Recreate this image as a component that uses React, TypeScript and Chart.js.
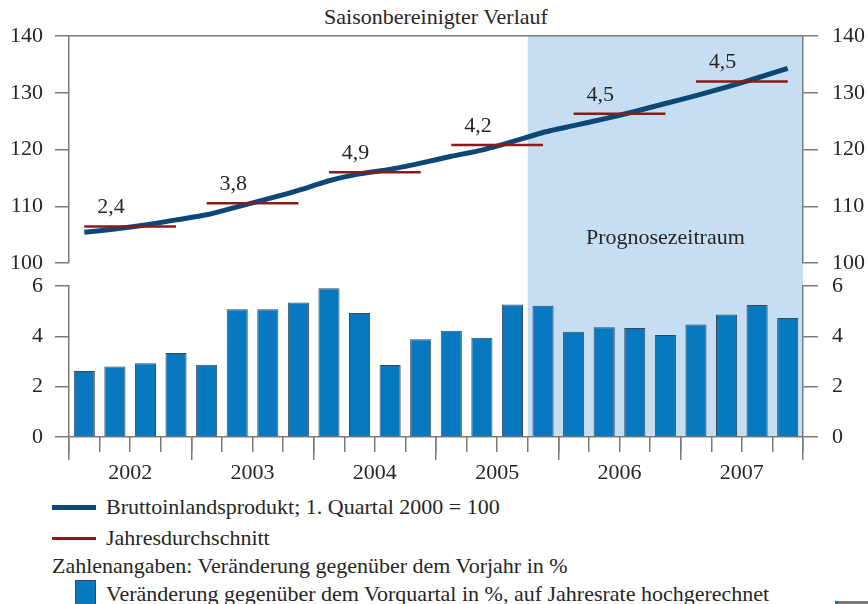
import React, { useEffect, useRef } from 'react';
import { Chart, registerables } from 'chart.js';

Chart.register(...registerables);

// ---------- data ----------
const years = ['2002', '2003', '2004', '2005', '2006', '2007'];
const quarterLabels = years.flatMap((y) => ['Q1', 'Q2', 'Q3', 'Q4'].map((q) => `${q} ${y}`));

// GDP index, 1st quarter 2000 = 100 (seasonally adjusted)
const gdpIndex = [
  105.4, 106.0, 106.7, 107.6,
  108.5, 109.9, 111.3, 112.8,
  114.5, 115.7, 116.5, 117.6,
  118.8, 119.9, 121.4, 123.0,
  124.2, 125.4, 126.7, 128.1,
  129.5, 131.0, 132.6, 134.3,
];

// Change vs previous quarter in %, annualised
const quarterlyGrowth = [
  2.62, 2.80, 2.93, 3.34,
  2.87, 5.08, 5.08, 5.34,
  5.91, 4.93, 2.86, 3.88,
  4.22, 3.94, 5.26, 5.22,
  4.18, 4.36, 4.33, 4.05,
  4.47, 4.87, 5.25, 4.73,
];

// Annual average of the index
const annualAverage = [106.45, 110.55, 116.0, 120.8, 126.3, 132.0];
// Change vs previous year in %
const annualGrowthLabels = ['2,4', '3,8', '4,9', '4,2', '4,5', '4,5'];

const forecastStartIndex = 15; // first forecast quarter (Q4 2005)

const topAxis = { min: 100, max: 140, step: 10 };
const bottomAxis = { min: 0, max: 6, step: 2 };

// ---------- style ----------
const FONT = '"Liberation Serif", "Times New Roman", serif';
const TEXT = '#262626';
const AXIS = '#7a7a7a';
const NAVY = '#0b4876';
const RED = '#8b1a1a';
const BAR = '#0879c1';
const SHADE = '#c6def2';

const overlayPlugin = {
  id: 'overlay',
  beforeDraw(chart: any) {
    const { ctx, chartArea, scales } = chart;
    const x = scales.x;
    const left = (x.getPixelForValue(forecastStartIndex - 1) + x.getPixelForValue(forecastStartIndex)) / 2;
    ctx.save();
    ctx.fillStyle = SHADE;
    ctx.fillRect(left, chartArea.top, chartArea.right - left, chartArea.bottom - chartArea.top);
    ctx.font = `22px ${FONT}`;
    ctx.fillStyle = TEXT;
    ctx.textAlign = 'center';
    ctx.textBaseline = 'middle';
    ctx.fillText('Prognosezeitraum', (left + chartArea.right) / 2, scales.yTop.getPixelForValue(104.4));
    ctx.restore();
  },
  afterDatasetsDraw(chart: any) {
    const { ctx, scales } = chart;
    ctx.save();
    ctx.font = `22px ${FONT}`;
    ctx.fillStyle = TEXT;
    ctx.textAlign = 'center';
    ctx.textBaseline = 'alphabetic';
    annualGrowthLabels.forEach((lab, i) => {
      const px = scales.x.getPixelForValue(i * 4 + 0.87);
      const py = scales.yTop.getPixelForValue(annualAverage[i]) - 13;
      ctx.fillText(lab, px, py);
    });
    ctx.restore();
  },
};

function leftAxis(range: any, stackWeight: number, weight: number, gridValue: number | null) {
  return {
    type: 'linear',
    position: 'left',
    stack: 'left',
    stackWeight,
    weight,
    min: range.min,
    max: range.max,
    afterFit: (s: any) => { s.width = 69; },
    ticks: { stepSize: range.step, autoSkip: false, font: { family: FONT, size: 22 }, color: TEXT, padding: 12 },
    grid: {
      drawOnChartArea: true,
      color: (c: any) => (c.tick && c.tick.value === gridValue ? AXIS : 'rgba(0,0,0,0)'),
      tickColor: AXIS,
      tickLength: 14,
      lineWidth: 1.5,
    },
    border: { display: true, color: AXIS, width: 1.5 },
  };
}

function rightAxis(range: any, stackWeight: number, weight: number) {
  return {
    type: 'linear',
    position: 'right',
    stack: 'right',
    stackWeight,
    weight,
    min: range.min,
    max: range.max,
    afterFit: (s: any) => { s.width = 65; },
    ticks: { stepSize: range.step, autoSkip: false, font: { family: FONT, size: 22 }, color: TEXT, padding: 14 },
    grid: { drawOnChartArea: false, tickColor: AXIS, tickLength: 15, lineWidth: 1.5 },
    border: { display: true, color: AXIS, width: 1.5 },
  };
}

function gapAxis(position: string, stack: string, weight: number, width: number) {
  return {
    type: 'linear',
    position,
    stack,
    stackWeight: 23,
    weight,
    min: 0,
    max: 1,
    afterFit: (s: any) => { s.width = width; },
    ticks: { display: false },
    grid: { display: false },
    border: { display: false },
  };
}

function ChartView() {
  const ref = useRef<HTMLCanvasElement | null>(null);
  useEffect(() => {
    if (!ref.current) return;
    const avgDatasets = annualAverage.map((v, yi) => ({
      type: 'line' as const,
      label: `Jahresdurchschnitt ${years[yi]}`,
      data: quarterLabels.map((_, i) => (Math.floor(i / 4) === yi ? v : null)),
      xAxisID: 'x',
      yAxisID: 'yTop',
      borderColor: RED,
      borderWidth: 2.5,
      pointRadius: 0,
      spanGaps: false,
      order: 0,
    }));
    const chart = new Chart(ref.current, {
      type: 'bar',
      data: {
        labels: quarterLabels,
        datasets: [
          ...avgDatasets,
          {
            type: 'line',
            label: 'Bruttoinlandsprodukt',
            data: gdpIndex,
            xAxisID: 'x',
            yAxisID: 'yTop',
            borderColor: NAVY,
            borderWidth: 5,
            pointRadius: 0,
            tension: 0.2,
            borderCapStyle: 'butt',
            order: 1,
          },
          {
            type: 'bar',
            label: 'Veränderung gegenüber dem Vorquartal',
            data: quarterlyGrowth,
            xAxisID: 'x',
            yAxisID: 'yBot',
            backgroundColor: BAR,
            borderColor: '#3a4856',
            borderWidth: 1,
            barPercentage: 0.69,
            categoryPercentage: 1,
            order: 2,
          },
        ] as any,
      },
      options: {
        animation: false,
        responsive: true,
        maintainAspectRatio: false,
        events: [],
        layout: { padding: { top: 36, left: 0, right: 0, bottom: 0 } },
        plugins: { legend: { display: false }, tooltip: { enabled: false }, title: { display: false } },
        scales: {
          x: {
            type: 'category',
            position: 'bottom',
            weight: 0,
            offset: true,
            afterFit: (s: any) => { s.height = 0; },
            ticks: { display: false },
            grid: { offset: true, drawOnChartArea: false, tickLength: 15, color: AXIS, tickColor: AXIS, lineWidth: 1.5 },
            border: { display: false },
          },
          xYear: {
            type: 'category',
            position: 'bottom',
            weight: 1,
            labels: years,
            offset: true,
            afterFit: (s: any) => { s.height = 53; },
            ticks: { font: { family: FONT, size: 22 }, color: TEXT, padding: 0, maxRotation: 0, autoSkip: false },
            grid: { offset: true, drawOnChartArea: false, tickLength: 23, color: AXIS, tickColor: AXIS, lineWidth: 1.5 },
            border: { display: false },
          },
          yTop: leftAxis(topAxis, 227, 3, 140),
          yGap: gapAxis('left', 'left', 2, 69),
          yBot: leftAxis(bottomAxis, 151, 1, 0),
          yTopR: rightAxis(topAxis, 227, 1),
          yGapR: gapAxis('right', 'right', 2, 65),
          yBotR: rightAxis(bottomAxis, 151, 3),
        } as any,
      },
      plugins: [overlayPlugin],
    });
    return () => chart.destroy();
  }, []);
  return <canvas ref={ref} />;
}

const txt = (left: number, top: number): React.CSSProperties => ({
  position: 'absolute',
  left,
  top,
  font: `22px ${FONT}`,
  lineHeight: '26px',
  color: TEXT,
  whiteSpace: 'nowrap',
});

export default function App() {
  return (
    <div style={{ position: 'fixed', left: 0, top: 0, width: 868, height: 604, background: '#fff', overflow: 'hidden' }}>
      <div style={{ ...txt(0, 4), width: 872, textAlign: 'center' }}>Saisonbereinigter Verlauf</div>
      <div style={{ position: 'absolute', left: 0, top: 0, width: 868, height: 490 }}>
        <ChartView />
      </div>
      <div style={{ position: 'absolute', left: 52, top: 505, width: 44, height: 5, background: NAVY }} />
      <div style={txt(106, 494)}>Bruttoinlandsprodukt; 1. Quartal 2000 = 100</div>
      <div style={{ position: 'absolute', left: 52, top: 537, width: 44, height: 2.5, background: RED }} />
      <div style={txt(106, 525)}>Jahresdurchschnitt</div>
      <div style={txt(52, 553)}>Zahlenangaben: Veränderung gegenüber dem Vorjahr in %</div>
      <div style={{ position: 'absolute', left: 75, top: 580, width: 21, height: 26, background: BAR, boxSizing: 'border-box', border: '1px solid #3a4856' }} />
      <div style={txt(106, 581)}>Veränderung gegenüber dem Vorquartal in %, auf Jahresrate hochgerechnet</div>
      <div style={{ position: 'absolute', left: 835, top: 601, width: 33, height: 3, background: '#7a7a7a', borderLeft: `3px solid ${BAR}` }} />
    </div>
  );
}
